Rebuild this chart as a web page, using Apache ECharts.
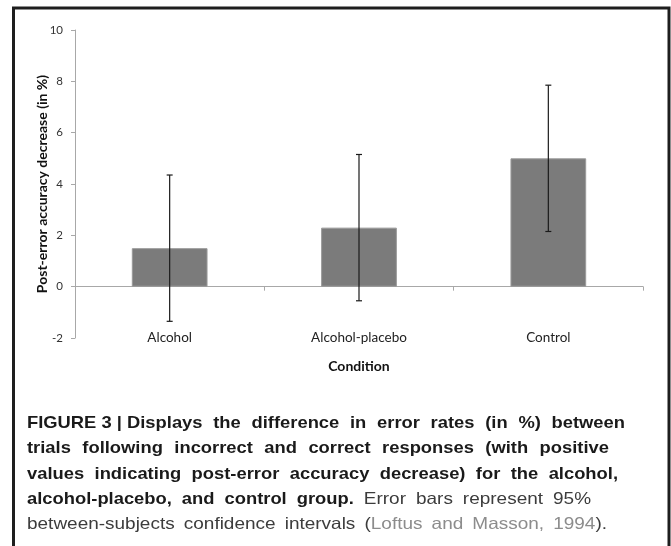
<!DOCTYPE html>
<html>
<head>
    <meta charset="utf-8">
    <title>Post-error accuracy decrease</title>
    <style>
        html, body { margin: 0; padding: 0; background: #fff; }
        #container { width: 671px; height: 546px; }
    </style>
</head>
<body>
<div id="container"></div>
<script src="https://cdn.jsdelivr.net/npm/echarts@6/dist/echarts.min.js"></script>
<script type="text/javascript">
    // data
    var categories = ['Alcohol', 'Alcohol-placebo', 'Control'];
    var meanDecrease = [1.5, 2.3, 5.0];
    var ciLower = [-1.35, -0.55, 2.15];
    var ciUpper = [4.35, 5.15, 7.85];
    var yMin = -2, yMax = 10, yStep = 2;

    // caption, line by line: [text, kind, glued-to-previous]
    var captionLines = [
        [['FIGURE\u00a03\u00a0|\u00a0Displays the difference in error rates (in %) between', 'b']],
        [['trials following incorrect and correct responses (with positive', 'b']],
        [['values indicating post-error accuracy decrease) for the alcohol,', 'b']],
        [['alcohol-placebo, and control group.', 'b'], ['Error bars represent 95%', 'r']],
        [['between-subjects confidence intervals (', 'r'], ['Loftus and Masson, 1994', 'c', true], [').', 'r', true]]
    ];
    var captionRight = [625, 609, 618, 591, 607];
    var captionMidY = [423, 448.5, 474, 499, 524];
    var captionLeft = 27;

    var fontFace = '"Liberation Sans", Arial, sans-serif';
    var kinds = {
        b: {font: 'bold 17px ' + fontFace, fill: '#1a1a1a', sx: 1.08},
        r: {font: '16.5px ' + fontFace, fill: '#3c3c3c', sx: 1.15},
        c: {font: '16.5px ' + fontFace, fill: '#8c8c8c', sx: 1.15}
    };

    var ctx = document.createElement('canvas').getContext('2d');
    function wordWidth(w, k) {
        ctx.font = kinds[k].font;
        return ctx.measureText(w).width * kinds[k].sx;
    }

    function captionGraphics() {
        var out = [];
        captionLines.forEach(function (segs, li) {
            var words = [];
            segs.forEach(function (seg) {
                seg[0].split(' ').forEach(function (w, wi) {
                    if (!w) return;
                    words.push({t: w, k: seg[1], glue: wi === 0 && !!seg[2], w: wordWidth(w, seg[1])});
                });
            });
            var total = 0, gaps = 0;
            words.forEach(function (o, i) {
                total += o.w;
                if (i > 0 && !o.glue) gaps++;
            });
            var gap = (captionRight[li] - captionLeft - total) / gaps;
            var x = captionLeft;
            words.forEach(function (o, i) {
                if (i > 0 && !o.glue) x += gap;
                out.push({
                    type: 'text',
                    x: x,
                    y: captionMidY[li],
                    scaleX: kinds[o.k].sx,
                    style: {
                        text: o.t,
                        font: kinds[o.k].font,
                        fill: kinds[o.k].fill,
                        verticalAlign: 'middle'
                    }
                });
                x += o.w;
            });
        });
        return out;
    }

    var myChart = echarts.init(document.getElementById('container'));
    var axisGray = '#a8a8a8';

    var option = {
        animation: false,
        backgroundColor: '#fff',
        textStyle: {fontFamily: 'Lato, "Open Sans", sans-serif'},
        grid: {
            left: 75,
            right: 28,
            top: 30,
            bottom: 208
        },
        xAxis: {
            type: 'category',
            data: categories,
            axisLine: {onZero: true, lineStyle: {color: axisGray, width: 1}},
            axisTick: {show: true, length: 4, lineStyle: {color: axisGray}},
            axisLabel: {margin: -7, color: '#222', fontSize: 13.5},
            name: 'Condition',
            nameLocation: 'middle',
            nameGap: 21,
            nameMoveOverlap: false,
            nameTextStyle: {fontWeight: 'bold', fontSize: 14, color: '#111'}
        },
        yAxis: {
            type: 'value',
            min: yMin,
            max: yMax,
            interval: yStep,
            axisLine: {show: true, lineStyle: {color: axisGray, width: 1}},
            axisTick: {show: true, length: 4, lineStyle: {color: axisGray}},
            splitLine: {show: false},
            axisLabel: {margin: 12, color: '#333', fontSize: 11.5},
            name: 'Post-error accuracy decrease (in %)',
            nameLocation: 'middle',
            nameGap: 26,
            nameMoveOverlap: false,
            nameTextStyle: {fontWeight: 'bold', fontSize: 14, color: '#111'}
        },
        series: [
            {
                name: 'Mean',
                type: 'bar',
                data: meanDecrease,
                barWidth: '40%',
                itemStyle: {color: '#7b7b7b', borderColor: '#9a9a9a', borderWidth: 1},
                z: 2
            },
            {
                name: 'CI',
                type: 'custom',
                data: categories.map(function (c, i) { return [i, ciLower[i], ciUpper[i]]; }),
                z: 5,
                renderItem: function (params, api) {
                    var lo = api.coord([api.value(0), api.value(1)]);
                    var hi = api.coord([api.value(0), api.value(2)]);
                    var cap = 3;
                    var st = {stroke: '#1a1a1a', lineWidth: 1.2};
                    return {
                        type: 'group',
                        children: [
                            {type: 'line', shape: {x1: lo[0], y1: lo[1], x2: hi[0], y2: hi[1]}, style: st},
                            {type: 'line', shape: {x1: hi[0] - cap, y1: hi[1], x2: hi[0] + cap, y2: hi[1]}, style: st},
                            {type: 'line', shape: {x1: lo[0] - cap, y1: lo[1], x2: lo[0] + cap, y2: lo[1]}, style: st}
                        ]
                    };
                }
            }
        ],
        graphic: [
            {
                type: 'polyline',
                shape: {points: [[13.5, 546], [13.5, 8], [669, 8], [669, 546]]},
                style: {stroke: '#1e1e1e', lineWidth: 3, fill: null}
            }
        ].concat(captionGraphics())
    };

    myChart.setOption(option);
</script>
</body>
</html>
